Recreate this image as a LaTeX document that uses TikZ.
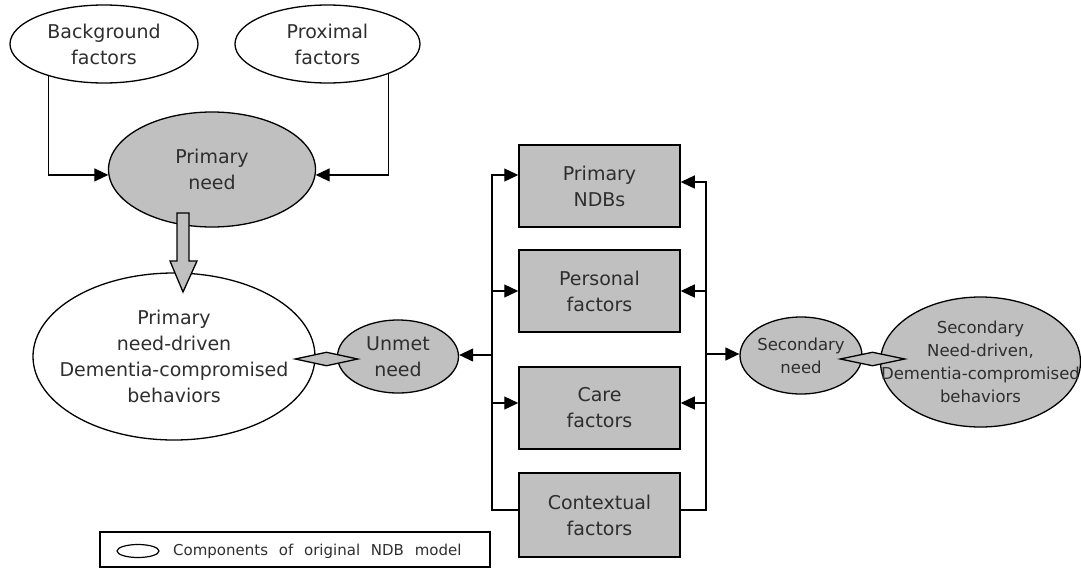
\documentclass[tikz,border=0pt]{standalone}
\usepackage{fontspec}
\setmainfont{DejaVu Sans}
\usetikzlibrary{shapes.geometric,arrows.meta}
\definecolor{fillg}{HTML}{C0C0C0}
\definecolor{txt}{HTML}{2E2E2E}
\begin{document}
\begin{tikzpicture}[x=1pt,y=-1pt,
  ln/.style={line width=1.3pt},
  arr/.style={ln,-{Triangle[length=14pt,width=13pt]}},
  ell/.style={ellipse,draw,line width=1.3pt,inner sep=0pt},
  gr/.style={fill=fillg},
  big/.style={font=\fontsize{19}{26}\selectfont,text=txt,align=center,inner sep=0pt},
  small/.style={font=\fontsize{16.5}{23}\selectfont,text=txt,align=center,inner sep=0pt},
  box/.style={draw,line width=1.5pt,fill=fillg,minimum width=161pt,minimum height=82pt,inner sep=0pt,
    font=\fontsize{19}{26}\selectfont,text=txt,align=center},
  dia/.style={diamond,draw,line width=1.3pt,fill=fillg,inner sep=0pt,minimum width=63pt,minimum height=14pt},
]
\useasboundingbox (0,0) rectangle (1081,568);

% top ellipses
\node[ell,minimum width=188pt,minimum height=78pt] (bg) at (104,44) {};
\node[big] (bgt) at (bg) {Background\\factors};
\node[ell,minimum width=185pt,minimum height=78pt] (pr) at (327.5,44) {};
\node[big] (prt) at (pr) {Proximal\\factors};

% primary need
\node[ell,gr,minimum width=207pt,minimum height=115pt] (pn) at (212,169.5) {};
\node[big] (pnt) at (pn) {Primary\\need};

\draw[arr] (bg.210) |- (pn.183.6);
\draw[arr] (pr.-26) |- (pn.-3.6);

% primary need-driven behaviours
\node[ell,minimum width=282pt,minimum height=167pt] (pnd) at (174,356.5) {};
\node[big] (pndt) at (pnd) {Primary\\need-driven\\Dementia-compromised\\behaviors};

% fat arrow
\draw[line width=1.3pt,fill=fillg,line join=miter]
  (177,213) -- (189,213) -- (189,261) -- (197,261) -- (183,292) -- (170,261) -- (177,261) -- cycle;

% unmet need
\node[ell,gr,minimum width=121pt,minimum height=73pt] (un) at (398,356.5) {};
\node[big] (unt) at (un) {Unmet\\need};
\node[dia] (d1) at (326.5,359) {};

% boxes
\node[box] (ndb) at (599.5,186) {Primary\\NDBs};
\node[box] (pers) at (599.5,291) {Personal\\factors};
\node[box] (care) at (599.5,408) {Care\\factors};
\node[box,minimum height=84pt] (ctx) at (599.5,515) {Contextual\\factors};

% left bus
\coordinate (L) at (492,355);
\coordinate (ndbL) at ([yshift=11pt]ndb.west);
\coordinate (careL) at ([yshift=5pt]care.west);
\coordinate (ctxL) at ([yshift=5pt]ctx.west);
\draw[arr] (ctxL) -| (L) |- (ndbL);
\draw[arr] (L |- pers.west) -- (pers.west);
\draw[arr] (L |- careL) -- (careL);
\draw[arr] (L) -- (un.east |- L);

% right bus
\coordinate (R) at (706,354);
\coordinate (ndbR) at ([yshift=4pt]ndb.east);
\coordinate (careR) at ([yshift=5pt]care.east);
\coordinate (ctxR) at ([yshift=5pt]ctx.east);
\draw[arr] (ctxR) -| (R) |- (ndbR);
\draw[arr] (R |- pers.east) -- (pers.east);
\draw[arr] (R |- careR) -- (careR);

% secondary
\node[ell,gr,minimum width=122pt,minimum height=77pt] (sn) at (801,355.5) {};
\node[small] (snt) at (sn) {Secondary\\need};
\node[ell,gr,minimum width=200pt,minimum height=130pt] (snd) at (980.5,362) {};
\node[small] (sndt) at (snd) {Secondary\\Need-driven,\\Dementia-compromised\\behaviors};
\node[dia,minimum width=65pt] (d2) at (872.5,359) {};
\draw[arr] (R) -- (sn.west |- R);

% legend
\node[draw,line width=1.2pt,minimum width=390pt,minimum height=35pt,inner sep=0pt] (leg) at (295,549.5) {};
\node[ell,line width=1.2pt,minimum width=42pt,minimum height=13pt] (legell) at (138,551) {};
\node[anchor=west,inner sep=0pt,font=\fontsize{15}{18}\selectfont,text=txt] (legt) at (173,551)
  {Components\hspace{6pt} of\hspace{6pt} original\hspace{6pt} NDB\hspace{6pt} model};
\end{tikzpicture}
\end{document}
